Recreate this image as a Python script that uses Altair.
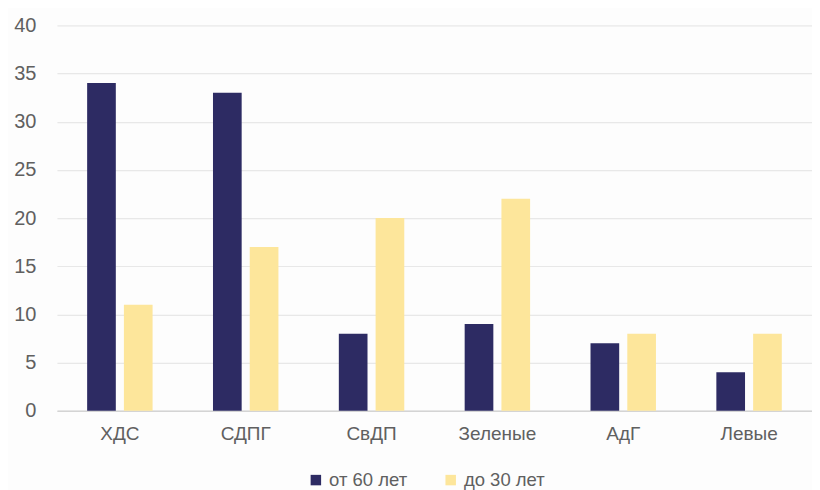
import altair as alt
import pandas as pd

parties = ["ХДС", "СДПГ", "СвДП", "Зеленые", "АдГ", "Левые"]
series = ["от 60 лет", "до 30 лет"]
old_vals = [34, 33, 8, 9, 7, 4]
young_vals = [11, 17, 20, 22, 8, 8]
colors = ["#2d2b63", "#fde69b"]

rows = []
for p, o, y in zip(parties, old_vals, young_vals):
    rows.append({"party": p, "group": series[0], "value": o})
    rows.append({"party": p, "group": series[1], "value": y})
df = pd.DataFrame(rows)

font = "Liberation Sans"

chart = alt.Chart(df).mark_bar().encode(
    x=alt.X("party:N", sort=parties, title=None,
            scale=alt.Scale(paddingInner=0.48, paddingOuter=0.24),
            axis=alt.Axis(labelAngle=0, labelFontSize=19, labelColor="#606060",
                          labelFont=font, labelPadding=14, ticks=False,
                          domainColor="#d4d4d4", domainWidth=1.5)),
    xOffset=alt.XOffset("group:N", sort=series,
                        scale=alt.Scale(paddingInner=0.22, paddingOuter=0)),
    y=alt.Y("value:Q", title=None,
            scale=alt.Scale(domain=[0, 40]),
            axis=alt.Axis(values=[0, 5, 10, 15, 20, 25, 30, 35, 40], labelFontSize=20,
                          labelColor="#606060", labelFont=font, labelPadding=21,
                          ticks=False, domain=False, gridColor="#e8e8e8", gridWidth=1.2)),
    color=alt.Color("group:N", sort=series,
                    scale=alt.Scale(domain=series, range=colors),
                    legend=alt.Legend(title=None, orient="none", direction="horizontal",
                                      legendX=250, legendY=446, symbolType="square",
                                      symbolSize=110, symbolStrokeWidth=0,
                                      labelFontSize=18.5, labelColor="#606060",
                                      labelFont=font, columnPadding=34, labelOffset=4)),
).properties(
    width=756, height=386,
    background="#fdfdfd",
    autosize=alt.AutoSizeParams(type="none"),
    padding={"left": 49, "top": 17, "right": 0, "bottom": 79},
).configure_view(strokeWidth=0, stroke="transparent")

chart.save("out.html", embed_options={"renderer": "svg", "actions": False})
